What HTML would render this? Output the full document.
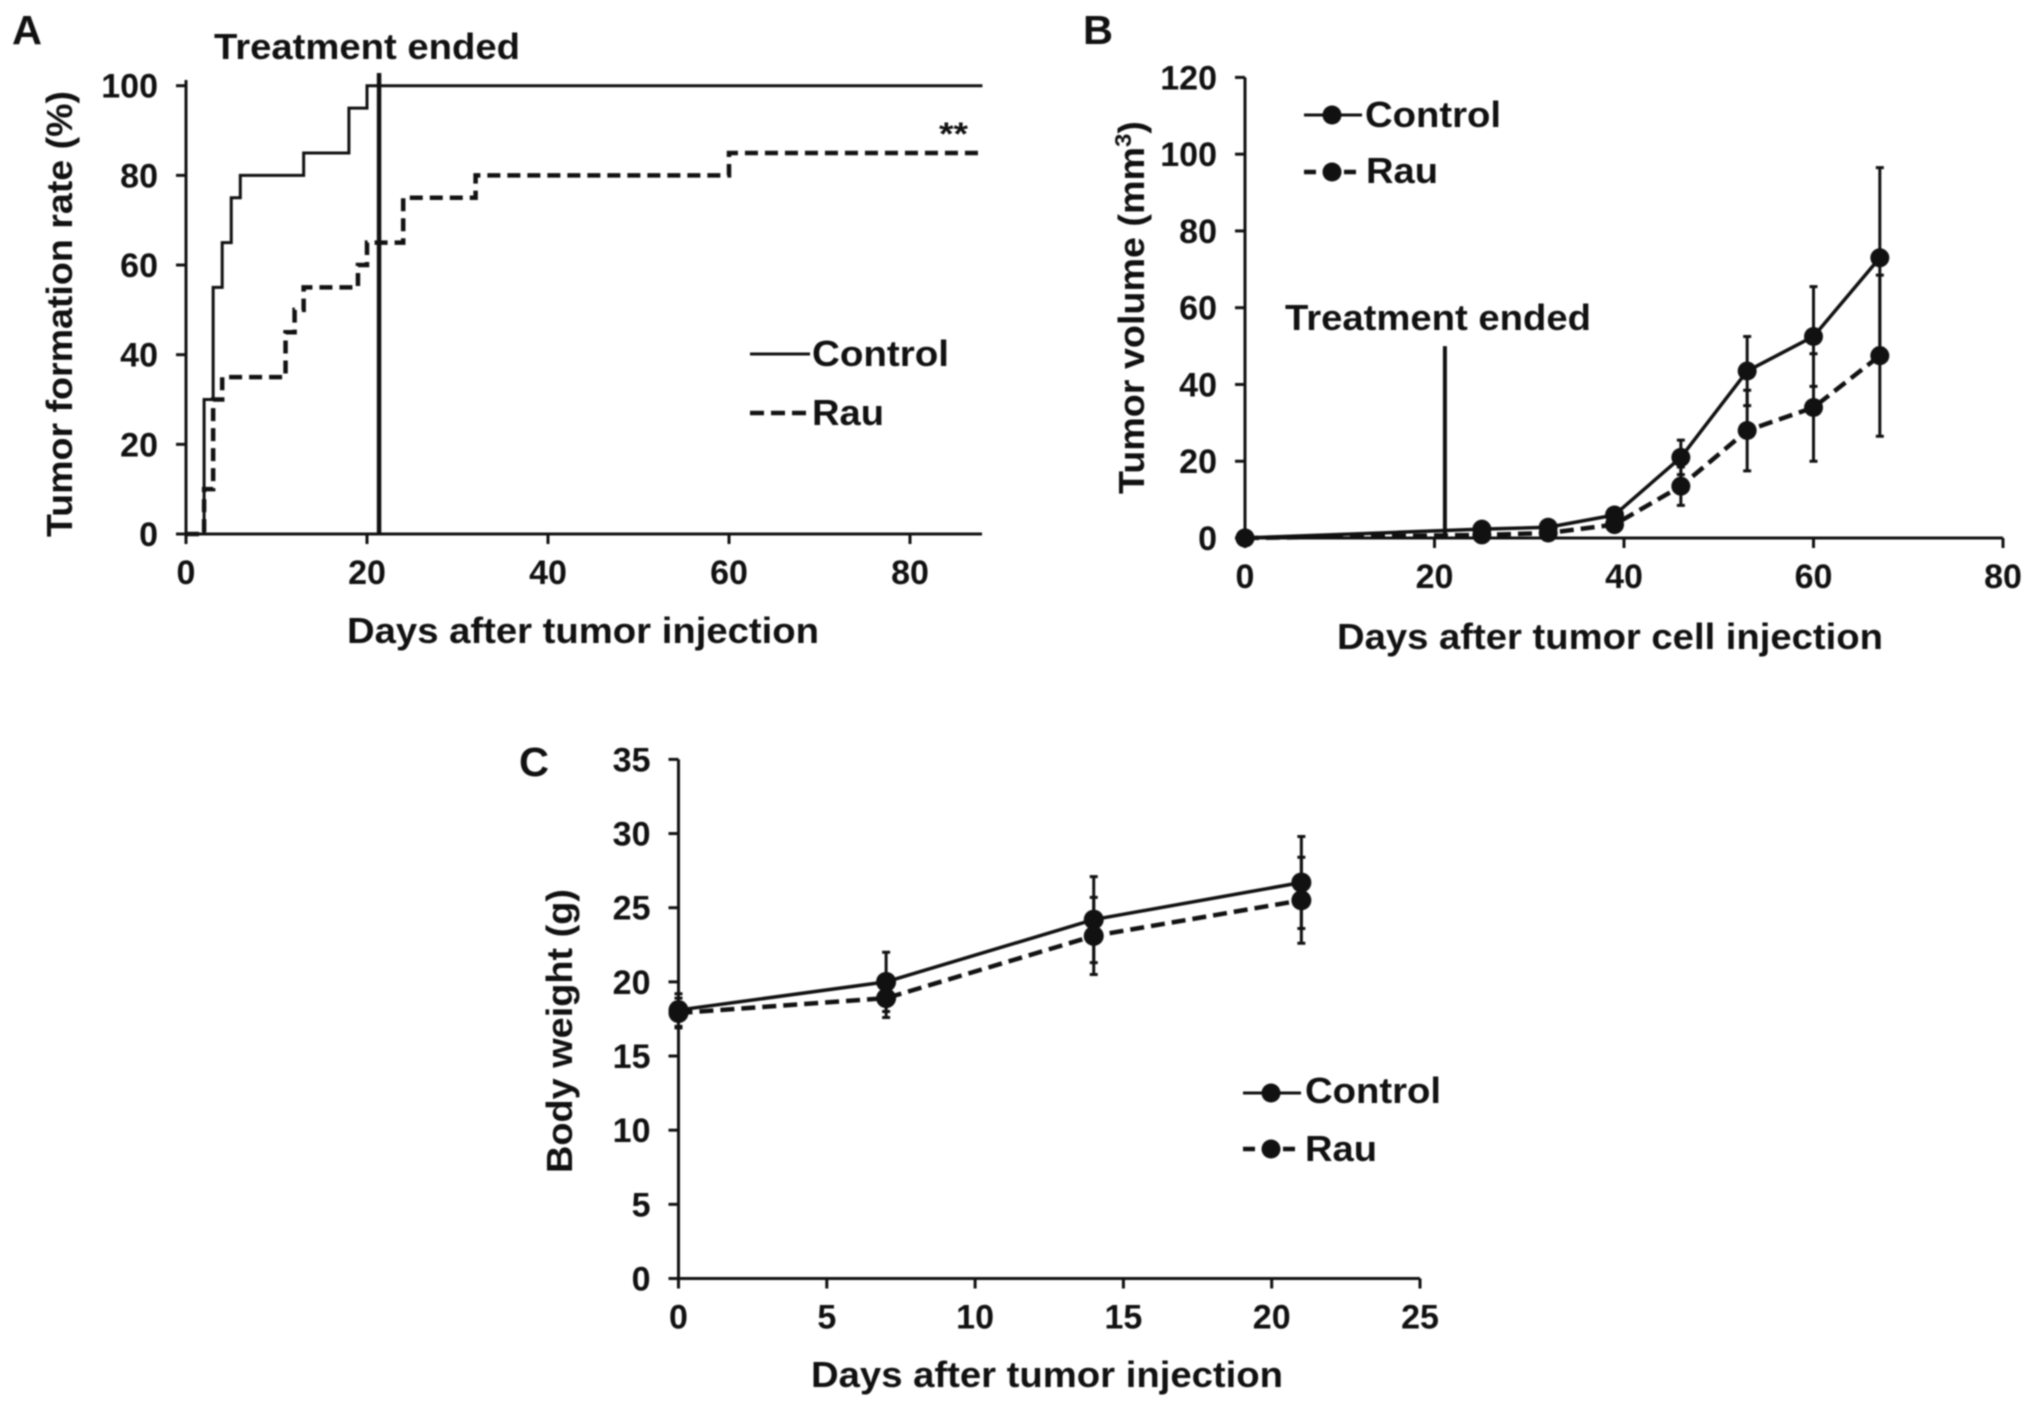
<!DOCTYPE html>
<html lang="en">
<head>
<meta charset="utf-8">
<title>Tumor formation, tumor volume and body weight charts</title>
<style>
  html, body { margin: 0; padding: 0; background: #ffffff; }
  body { width: 2031px; height: 1408px; overflow: hidden; }
  svg { display: block; filter: blur(0.7px); }
  text { font-family: "Liberation Sans", Arial, sans-serif; font-weight: bold; fill: #111111; }
  .panel-letter { font-size: 41px; }
  .title { font-size: 36px; }
  .axis-title { font-size: 36px; }
  .legend-label { font-size: 36px; }
  .tick { font-size: 34px; }
</style>
</head>
<body>
<svg id="figure" xmlns="http://www.w3.org/2000/svg" width="2031" height="1408" viewBox="0 0 2031 1408">
  <rect x="0" y="0" width="2031" height="1408" fill="#ffffff"/>

  <g id="panel-a">
    <text class="panel-letter" x="12" y="44" textLength="30" lengthAdjust="spacingAndGlyphs">A</text>
    <text class="title" x="214" y="59" textLength="306" lengthAdjust="spacingAndGlyphs">Treatment ended</text>
    <text class="axis-title" x="347" y="643" textLength="472" lengthAdjust="spacingAndGlyphs">Days after tumor injection</text>
    <text class="axis-title" transform="translate(72 537) rotate(-90)" x="0" y="0" textLength="446" lengthAdjust="spacingAndGlyphs">Tumor formation rate (%)</text>
    <text class="title" font-size="32" style="font-size:32px" x="939" y="145" textLength="29" lengthAdjust="spacingAndGlyphs">**</text>
    <line x1="750" x2="810" y1="354" y2="354" stroke="#111111" stroke-width="3"/>
    <text class="legend-label" x="812" y="366" textLength="137" lengthAdjust="spacingAndGlyphs">Control</text>
    <line x1="750" x2="808" y1="413" y2="413" stroke="#111111" stroke-width="4.5" stroke-dasharray="14 7"/>
    <text class="legend-label" x="812" y="425" textLength="72" lengthAdjust="spacingAndGlyphs">Rau</text>
  </g>

  <g id="panel-b">
    <text class="panel-letter" x="1083" y="44" textLength="30" lengthAdjust="spacingAndGlyphs">B</text>
    <text class="title" x="1285" y="330" textLength="306" lengthAdjust="spacingAndGlyphs">Treatment ended</text>
    <text class="axis-title" x="1337" y="649" textLength="546" lengthAdjust="spacingAndGlyphs">Days after tumor cell injection</text>
    <text class="axis-title" transform="translate(1144 494) rotate(-90)" x="0" y="0" textLength="373" lengthAdjust="spacingAndGlyphs">Tumor volume (mm<tspan font-size="23" dy="-13">3</tspan><tspan dy="13">)</tspan></text>
    <line x1="1304" x2="1362" y1="115" y2="115" stroke="#111111" stroke-width="3"/>
    <circle cx="1332" cy="115" r="9.5" fill="#111111"/>
    <text class="legend-label" x="1365" y="127" textLength="136" lengthAdjust="spacingAndGlyphs">Control</text>
    <line x1="1304" x2="1362" y1="172" y2="172" stroke="#111111" stroke-width="4.5" stroke-dasharray="12 8"/>
    <circle cx="1332" cy="172" r="9.5" fill="#111111"/>
    <text class="legend-label" x="1366" y="183" textLength="72" lengthAdjust="spacingAndGlyphs">Rau</text>
  </g>

  <g id="panel-c">
    <text class="panel-letter" x="519" y="776" textLength="30" lengthAdjust="spacingAndGlyphs">C</text>
    <text class="axis-title" x="811" y="1387" textLength="472" lengthAdjust="spacingAndGlyphs">Days after tumor injection</text>
    <text class="axis-title" transform="translate(572 1173) rotate(-90)" x="0" y="0" textLength="284" lengthAdjust="spacingAndGlyphs">Body weight (g)</text>
    <line x1="1243" x2="1301" y1="1093" y2="1093" stroke="#111111" stroke-width="3"/>
    <circle cx="1271" cy="1093" r="9.5" fill="#111111"/>
    <text class="legend-label" x="1305" y="1103" textLength="136" lengthAdjust="spacingAndGlyphs">Control</text>
    <line x1="1243" x2="1301" y1="1149" y2="1149" stroke="#111111" stroke-width="4.5" stroke-dasharray="12 8"/>
    <circle cx="1271" cy="1149" r="9.5" fill="#111111"/>
    <text class="legend-label" x="1305" y="1161" textLength="72" lengthAdjust="spacingAndGlyphs">Rau</text>
  </g>
</svg>

<script>
// Panel A: tumor formation rate (step curves)
const aXTicks = [0, 20, 40, 60, 80];
const aYTicks = [0, 20, 40, 60, 80, 100];
const aControlDays = [0, 2, 3, 4, 5, 6, 13, 18, 20, 88];
const aControlRate = [0, 30, 55, 65, 75, 80, 85, 95, 100, 100];
const aRauDays = [0, 2, 3, 4, 11, 12, 13, 19, 20, 24, 32, 60, 88];
const aRauRate = [0, 10, 30, 35, 45, 50, 55, 60, 65, 75, 80, 85, 85];
const aTreatmentEndDay = [21.5];

// Panel B: tumor volume
const bXTicks = [0, 20, 40, 60, 80];
const bYTicks = [0, 20, 40, 60, 80, 100, 120];
const bDays = [0, 25, 32, 39, 46, 53, 60, 67];
const bControl = [0, 2.3, 2.8, 6, 21, 43.5, 52.5, 73];
const bControlErr = [0, 0.6, 0.6, 1, 4.5, 9, 13, 23.5];
const bRau = [0, 0.8, 1.3, 3.5, 13.5, 28, 34, 47.5];
const bRauErr = [0, 0.5, 0.6, 1.2, 5, 10.5, 14, 21];
const bTreatmentEndDay = [21.1];
const bTreatmentTop = [50];

// Panel C: body weight
const cXTicks = [0, 5, 10, 15, 20, 25];
const cYTicks = [0, 5, 10, 15, 20, 25, 30, 35];
const cDays = [0, 7, 14, 21];
const cControl = [18.1, 20, 24.2, 26.7];
const cControlErr = [1.1, 2, 2.9, 3.1];
const cRau = [17.9, 18.9, 23.1, 25.5];
const cRauErr = [1, 1.3, 2.6, 2.9];

const SVG_NS = 'http://www.w3.org/2000/svg';
const INK = '#111111';

function mk(tag, parent, attrs) {
  const el = document.createElementNS(SVG_NS, tag);
  for (const k in attrs) el.setAttribute(k, attrs[k]);
  parent.appendChild(el);
  return el;
}

function linear(d0, d1, r0, r1) {
  return function (v) { return r0 + (v - d0) * (r1 - r0) / (d1 - d0); };
}

function drawAxes(parent, key, x, y, xTicks, yTicks, xMaxPx, yMaxPx, width) {
  const x0 = x(0), y0 = y(0);
  const yAxis = mk('line', parent, { x1: x0, x2: x0, y1: yMaxPx, y2: y0 + 1, stroke: INK, 'stroke-width': width });
  
  
  const xAxis = mk('line', parent, { x1: x0 - 1, x2: xMaxPx, y1: y0, y2: y0, stroke: INK, 'stroke-width': width });
  
  
  xTicks.forEach(function (t) {
    const tick = mk('line', parent, { x1: x(t), x2: x(t), y1: y0, y2: y0 + 10, stroke: INK, 'stroke-width': width });
    
    
    const label = mk('text', parent, { x: x(t), y: y0 + 50, 'text-anchor': 'middle', class: 'tick' });
    label.textContent = String(t);
    
    
  });
  yTicks.forEach(function (t) {
    const tick = mk('line', parent, { x1: x0 - 10, x2: x0, y1: y(t), y2: y(t), stroke: INK, 'stroke-width': width });
    
    
    const label = mk('text', parent, { x: x0 - 28, y: y(t) + 12, 'text-anchor': 'end', class: 'tick' });
    label.textContent = String(t);
    
    
  });
}

function stepPath(x, y, days, vals) {
  let d = 'M' + x(days[0]) + ' ' + y(vals[0]);
  for (let i = 1; i < days.length; i++) {
    d += 'H' + x(days[i]) + 'V' + y(vals[i]);
  }
  return d;
}

function polyPath(x, y, days, vals) {
  return days.map(function (t, i) {
    return (i ? 'L' : 'M') + x(t) + ' ' + y(vals[i]);
  }).join('');
}

function drawSeries(parent, key, x, y, days, vals, errs, dashed, r) {
  days.forEach(function (t, i) {
    if (!errs[i]) return;
    const px = x(t), hi = y(vals[i] + errs[i]), lo = y(vals[i] - errs[i]);
    const bar = mk('path', parent, {
      d: 'M' + px + ' ' + hi + 'V' + lo + 'M' + (px - 4) + ' ' + hi + 'H' + (px + 4) + 'M' + (px - 4) + ' ' + lo + 'H' + (px + 4),
      fill: 'none', stroke: INK, 'stroke-width': 3
    });
    
    
  });
  const line = mk('path', parent, {
    d: polyPath(x, y, days, vals), fill: 'none', stroke: INK,
    'stroke-width': dashed ? 4.5 : 3.5, 'stroke-dasharray': dashed ? '14 7' : 'none', 'stroke-linejoin': 'round'
  });
  
  
  days.forEach(function (t, i) {
    const dot = mk('circle', parent, { cx: x(t), cy: y(vals[i]), r: r, fill: INK });
    
    
  });
}

// Panel A
(function () {
  const g = document.getElementById('panel-a');
  const x = linear(0, 80, 186, 910);
  const y = linear(0, 100, 534, 85.7);
  drawAxes(g, 'panel-a', x, y, aXTicks, aYTicks, 982, 80, 3);
  const control = mk('path', g, { d: stepPath(x, y, aControlDays, aControlRate), fill: 'none', stroke: INK, 'stroke-width': 3 });
  
  
  const rau = mk('path', g, { d: stepPath(x, y, aRauDays, aRauRate), fill: 'none', stroke: INK, 'stroke-width': 4.5, 'stroke-dasharray': '13 7' });
  
  
  const end = mk('line', g, { x1: x(aTreatmentEndDay[0]) - 1.5, x2: x(aTreatmentEndDay[0]) - 1.5, y1: 73, y2: y(0), stroke: INK, 'stroke-width': 4.5 });
  
  
})();

// Panel B
(function () {
  const g = document.getElementById('panel-b');
  const x = linear(0, 80, 1245, 2003);
  const y = linear(0, 120, 538, 77.4);
  drawAxes(g, 'panel-b', x, y, bXTicks, bYTicks, 2003, 77.4, 3);
  const end = mk('line', g, { x1: x(bTreatmentEndDay[0]), x2: x(bTreatmentEndDay[0]), y1: y(bTreatmentTop[0]), y2: y(0), stroke: INK, 'stroke-width': 4 });
  
  
  drawSeries(g, 'panel-b-control', x, y, bDays, bControl, bControlErr, false, 9.5);
  drawSeries(g, 'panel-b-rau', x, y, bDays, bRau, bRauErr, true, 9.5);
})();

// Panel C
(function () {
  const g = document.getElementById('panel-c');
  const x = linear(0, 25, 678.5, 1420);
  const y = linear(0, 35, 1278.5, 759.4);
  drawAxes(g, 'panel-c', x, y, cXTicks, cYTicks, 1420, 759.4, 3);
  drawSeries(g, 'panel-c-control', x, y, cDays, cControl, cControlErr, false, 10);
  drawSeries(g, 'panel-c-rau', x, y, cDays, cRau, cRauErr, true, 10);
})();
</script>
</body>
</html>
